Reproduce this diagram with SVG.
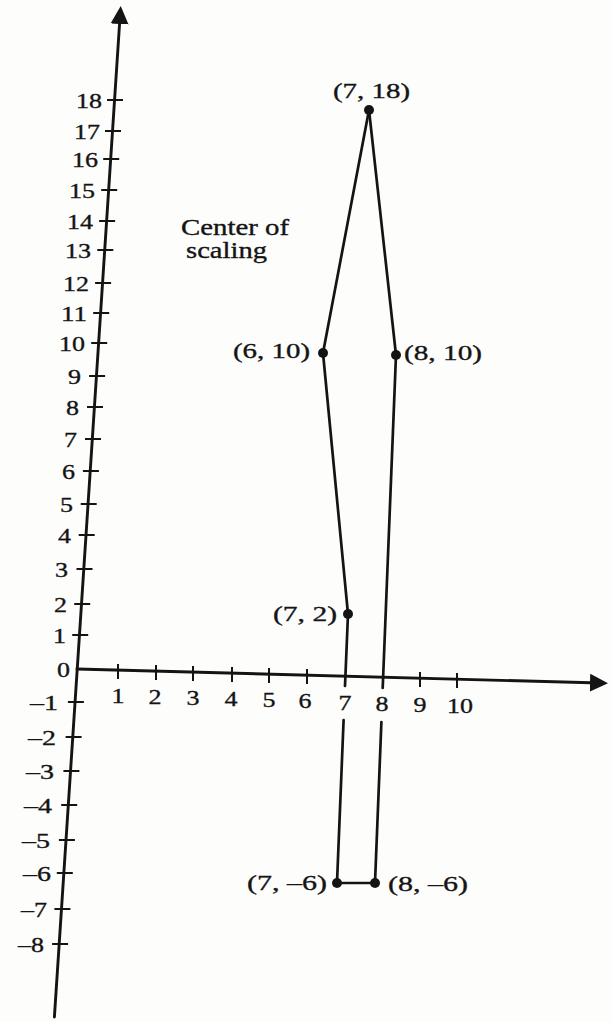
<svg xmlns="http://www.w3.org/2000/svg" width="612" height="1022" viewBox="0 0 612 1022">
<style>
.ax{stroke:#141414;stroke-width:2.9;fill:none;stroke-linecap:round}
.tk{stroke:#141414;stroke-width:2;fill:none}
.ln{stroke:#141414;stroke-width:2.7;fill:none;stroke-linecap:round}
.dot{fill:#141414}
text{font-family:"Liberation Serif","Times New Roman",serif;fill:#141414;stroke:#141414;stroke-width:0.35}
.yl{font-size:22px;text-anchor:end}
.xl{font-size:22px;text-anchor:middle}
.pl{font-size:22px}
.cl{font-size:23px}
</style>
<defs>
<marker id="arr" markerUnits="userSpaceOnUse" markerWidth="20" markerHeight="20" viewBox="0 -10 20 20" refX="10" refY="0" orient="auto">
<path d="M0,-9 L18,0 L0,9 Z" fill="#141414"/>
</marker>
</defs>
<rect width="612" height="1022" fill="#fdfdfc"/>
<g id="axes">
<line class="ax" x1="54.4" y1="1017" x2="120.2" y2="14" marker-end="url(#arr)"/>
<line class="ax" x1="77" y1="669" x2="600" y2="683" marker-end="url(#arr)"/>
</g>
<g id="y-ticks">
<line class="tk" x1="107" y1="100" x2="123" y2="100"/>
<line class="tk" x1="105" y1="131" x2="121" y2="131"/>
<line class="tk" x1="103.2" y1="159" x2="119.2" y2="159"/>
<line class="tk" x1="101.2" y1="190" x2="117.2" y2="190"/>
<line class="tk" x1="99.1" y1="221" x2="115.1" y2="221"/>
<line class="tk" x1="97.3" y1="250" x2="113.3" y2="250"/>
<line class="tk" x1="95.1" y1="283" x2="111.1" y2="283"/>
<line class="tk" x1="93.2" y1="313" x2="109.2" y2="313"/>
<line class="tk" x1="91.2" y1="343" x2="107.2" y2="343"/>
<line class="tk" x1="89.1" y1="376" x2="105.1" y2="376"/>
<line class="tk" x1="87" y1="407" x2="103" y2="407"/>
<line class="tk" x1="85" y1="439" x2="101" y2="439"/>
<line class="tk" x1="82.9" y1="471" x2="98.9" y2="471"/>
<line class="tk" x1="80.7" y1="504" x2="96.7" y2="504"/>
<line class="tk" x1="78.7" y1="535" x2="94.7" y2="535"/>
<line class="tk" x1="76.5" y1="569" x2="92.5" y2="569"/>
<line class="tk" x1="74.2" y1="604" x2="90.2" y2="604"/>
<line class="tk" x1="72.2" y1="635" x2="88.2" y2="635"/>
<line class="tk" x1="67.9" y1="702" x2="83.9" y2="702"/>
<line class="tk" x1="65.6" y1="737" x2="81.6" y2="737"/>
<line class="tk" x1="63.4" y1="771" x2="79.4" y2="771"/>
<line class="tk" x1="61.2" y1="805" x2="77.2" y2="805"/>
<line class="tk" x1="58.9" y1="840" x2="74.9" y2="840"/>
<line class="tk" x1="56.8" y1="873" x2="72.8" y2="873"/>
<line class="tk" x1="54.4" y1="909" x2="70.4" y2="909"/>
<line class="tk" x1="52.1" y1="944" x2="68.1" y2="944"/>
</g>
<g id="y-labels">
<text class="yl" x="102" y="108" textLength="26" lengthAdjust="spacingAndGlyphs">18</text>
<text class="yl" x="100" y="139" textLength="26" lengthAdjust="spacingAndGlyphs">17</text>
<text class="yl" x="98" y="167" textLength="26" lengthAdjust="spacingAndGlyphs">16</text>
<text class="yl" x="95" y="198" textLength="26" lengthAdjust="spacingAndGlyphs">15</text>
<text class="yl" x="93" y="229" textLength="26" lengthAdjust="spacingAndGlyphs">14</text>
<text class="yl" x="91" y="258" textLength="26" lengthAdjust="spacingAndGlyphs">13</text>
<text class="yl" x="89" y="291" textLength="26" lengthAdjust="spacingAndGlyphs">12</text>
<text class="yl" x="87" y="321" textLength="26" lengthAdjust="spacingAndGlyphs">11</text>
<text class="yl" x="85" y="351" textLength="26" lengthAdjust="spacingAndGlyphs">10</text>
<text class="yl" x="81" y="384" textLength="13" lengthAdjust="spacingAndGlyphs">9</text>
<text class="yl" x="79" y="415" textLength="13" lengthAdjust="spacingAndGlyphs">8</text>
<text class="yl" x="77" y="447" textLength="13" lengthAdjust="spacingAndGlyphs">7</text>
<text class="yl" x="75" y="479" textLength="13" lengthAdjust="spacingAndGlyphs">6</text>
<text class="yl" x="73" y="512" textLength="13" lengthAdjust="spacingAndGlyphs">5</text>
<text class="yl" x="71" y="543" textLength="13" lengthAdjust="spacingAndGlyphs">4</text>
<text class="yl" x="68" y="577" textLength="13" lengthAdjust="spacingAndGlyphs">3</text>
<text class="yl" x="67" y="612" textLength="13" lengthAdjust="spacingAndGlyphs">2</text>
<text class="yl" x="66" y="643" textLength="13" lengthAdjust="spacingAndGlyphs">1</text>
<text class="yl" x="70" y="677" textLength="13" lengthAdjust="spacingAndGlyphs">0</text>
<text class="yl" x="58" y="710" textLength="28" lengthAdjust="spacingAndGlyphs">–1</text>
<text class="yl" x="56" y="745" textLength="28" lengthAdjust="spacingAndGlyphs">–2</text>
<text class="yl" x="54" y="779" textLength="28" lengthAdjust="spacingAndGlyphs">–3</text>
<text class="yl" x="52" y="813" textLength="28" lengthAdjust="spacingAndGlyphs">–4</text>
<text class="yl" x="50" y="848" textLength="28" lengthAdjust="spacingAndGlyphs">–5</text>
<text class="yl" x="51" y="881" textLength="28" lengthAdjust="spacingAndGlyphs">–6</text>
<text class="yl" x="47" y="917" textLength="26" lengthAdjust="spacingAndGlyphs">–7</text>
<text class="yl" x="44" y="952" textLength="26" lengthAdjust="spacingAndGlyphs">–8</text>
</g>
<g id="x-ticks">
<line class="tk" x1="118" y1="664" x2="118" y2="679"/>
<line class="tk" x1="156" y1="665" x2="156" y2="680"/>
<line class="tk" x1="193" y1="666" x2="193" y2="681"/>
<line class="tk" x1="232" y1="667" x2="232" y2="682"/>
<line class="tk" x1="269" y1="668" x2="269" y2="683"/>
<line class="tk" x1="307" y1="669" x2="307" y2="684"/>
<line class="tk" x1="420" y1="672" x2="420" y2="687"/>
<line class="tk" x1="457" y1="673" x2="457" y2="688"/>
</g>
<g id="x-labels">
<text class="xl" x="118" y="703" textLength="13" lengthAdjust="spacingAndGlyphs">1</text>
<text class="xl" x="155" y="704" textLength="13" lengthAdjust="spacingAndGlyphs">2</text>
<text class="xl" x="193" y="705" textLength="13" lengthAdjust="spacingAndGlyphs">3</text>
<text class="xl" x="231" y="706" textLength="13" lengthAdjust="spacingAndGlyphs">4</text>
<text class="xl" x="269" y="707" textLength="13" lengthAdjust="spacingAndGlyphs">5</text>
<text class="xl" x="305" y="708" textLength="13" lengthAdjust="spacingAndGlyphs">6</text>
<text class="xl" x="345" y="710" textLength="13" lengthAdjust="spacingAndGlyphs">7</text>
<text class="xl" x="382" y="711" textLength="13" lengthAdjust="spacingAndGlyphs">8</text>
<text class="xl" x="420" y="712" textLength="13" lengthAdjust="spacingAndGlyphs">9</text>
<text class="xl" x="460" y="713" textLength="26" lengthAdjust="spacingAndGlyphs">10</text>
</g>
<g id="connectors">
<line class="ln" x1="369" y1="110" x2="323" y2="353"/>
<line class="ln" x1="369" y1="110" x2="396" y2="355"/>
<line class="ln" x1="323" y1="353" x2="348" y2="614"/>
<line class="ln" x1="348" y1="614" x2="345" y2="686"/>
<line class="ln" x1="343.6" y1="720" x2="337" y2="883"/>
<line class="ln" x1="396" y1="355" x2="382.7" y2="688"/>
<line class="ln" x1="381.4" y1="722" x2="375" y2="883"/>
<line class="ln" x1="337" y1="883" x2="375" y2="883"/>
</g>
<g id="center-of-scaling">
<text class="cl" x="181" y="235" textLength="108" lengthAdjust="spacingAndGlyphs">Center of</text>
<text class="cl" x="186" y="258" textLength="81" lengthAdjust="spacingAndGlyphs">scaling</text>
</g>
<g id="p-7-18">
<circle class="dot" cx="369" cy="110" r="5"/>
<text class="pl" x="333" y="98" textLength="77" lengthAdjust="spacingAndGlyphs">(7, 18)</text>
</g>
<g id="p-6-10">
<circle class="dot" cx="323" cy="353" r="5"/>
<text class="pl" x="233" y="358" textLength="77" lengthAdjust="spacingAndGlyphs">(6, 10)</text>
</g>
<g id="p-8-10">
<circle class="dot" cx="396" cy="355" r="5"/>
<text class="pl" x="404" y="360" textLength="78" lengthAdjust="spacingAndGlyphs">(8, 10)</text>
</g>
<g id="p-7-2">
<circle class="dot" cx="348" cy="614" r="5"/>
<text class="pl" x="273" y="621" textLength="64" lengthAdjust="spacingAndGlyphs">(7, 2)</text>
</g>
<g id="p-7-m6">
<circle class="dot" cx="337" cy="883" r="5"/>
<text class="pl" x="247" y="890" textLength="80" lengthAdjust="spacingAndGlyphs">(7, –6)</text>
</g>
<g id="p-8-m6">
<circle class="dot" cx="375" cy="883" r="5"/>
<text class="pl" x="388" y="891" textLength="80" lengthAdjust="spacingAndGlyphs">(8, –6)</text>
</g>
</svg>
